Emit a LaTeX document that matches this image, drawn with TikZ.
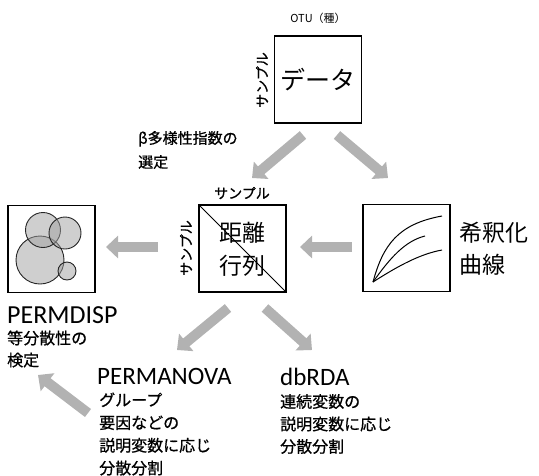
\documentclass[tikz,border=0pt]{standalone}
\usepackage{fontspec}
\setmainfont{Carlito}
\newfontfamily\jp{Noto Sans CJK JP}
\newfontfamily\jpb[FakeBold=0.8]{Noto Sans CJK JP}
\usetikzlibrary{arrows.meta}
\newcommand{\fs}[2]{\fontsize{#1}{#2}\selectfont}
\tikzset{
  box/.style={draw=black, line width=1.2pt, minimum width=87pt, minimum height=87pt, inner sep=0pt},
  bigarrow/.style={draw=gray!60, line width=10pt, -{Triangle[width=22pt,length=12pt]}},
  lbl/.style={inner sep=0pt, anchor=west, align=left},
  circ/.style={draw=black!85, line width=0.9pt, fill=gray!75, fill opacity=0.5}
}
\begin{document}
\begin{tikzpicture}[x=1pt,y=-1pt]
\useasboundingbox (0,0) rectangle (539,475);
% boxes
\node[box, font=\jp\fs{25}{30}] (data) at (318,79.5) {データ};
\node[inner sep=0pt, font=\jp\fs{11}{13}] (otu) at (318,18) {OTU（種）};
\node[inner sep=0pt, rotate=90, font=\jpb\fs{14}{16}] (s1) at (262,80) {サンプル};

\node[box] (dm) at (242.5,248.5) {};
\draw[line width=1pt] (dm.north west) -- (dm.south east);
\node[inner sep=0pt, align=center, font=\jp\fs{23}{33}] (dmt) at (242.5,249) {距離\\行列};
\node[inner sep=0pt, font=\jpb\fs{14}{16}] (s2) at (242,193) {サンプル};
\node[inner sep=0pt, rotate=90, font=\jpb\fs{14}{16}] (s3) at (186,248) {サンプル};

\node[box] (pd) at (51.5,249) {};
\node[circ] (c1) at (40,260) [circle, minimum size=48pt, inner sep=0pt] {};
\node[circ] (c2) at (43,230) [circle, minimum size=35pt, inner sep=0pt] {};
\node[circ] (c3) at (65,233) [circle, minimum size=32pt, inner sep=0pt] {};
\node[circ] (c4) at (67,271) [circle, minimum size=18pt, inner sep=0pt] {};

\node[box] (rf) at (406.5,248) {};
\coordinate (o) at (373,282);
\draw[line width=1pt] (o) .. controls (383,245) and (398,224) .. (442,216);
\draw[line width=1pt] (o) .. controls (390,258) and (405,241) .. (425,236);
\draw[line width=1pt] (o) .. controls (398,266) and (420,254) .. (442,250);
\node[lbl, font=\jp\fs{23}{32}] (rft) at (459,249) {希釈化\\曲線};

% texts
\node[lbl, font=\jpb\fs{15}{24}] (beta) at (138,150) {β多様性指数の\\選定};
\node[lbl, font=\fs{26}{30}] (pdt) at (7,315) {PERMDISP};
\node[lbl, font=\jpb\fs{16}{22}] (pdd) at (7,349) {等分散性の\\検定};
\node[lbl, font=\fs{25}{30}] (pmt) at (97,376) {PERMANOVA};
\node[lbl, font=\jpb\fs{16}{22.7}] (pmd) at (99,434) {グループ\\要因などの\\説明変数に応じ\\分散分割};
\node[lbl, font=\fs{25}{30}] (dbt) at (280,377) {dbRDA};
\node[lbl, font=\jpb\fs{16}{22.5}] (dbd) at (280,424) {連続変数の\\説明変数に応じ\\分散分割};

% arrows
\coordinate (a1t) at (303,135); \coordinate (a1h) at (252,178);
\coordinate (a2t) at (337,135); \coordinate (a2h) at (388,178);
\coordinate (a3t) at (352,247); \coordinate (a3h) at (300,247);
\coordinate (a4t) at (158,247); \coordinate (a4h) at (106,247);
\coordinate (a5t) at (228,308); \coordinate (a5h) at (177,350);
\coordinate (a6t) at (265,308); \coordinate (a6h) at (312,350);
\coordinate (a7t) at (88,413); \coordinate (a7h) at (38,375);
\foreach \i in {1,...,7} \draw[bigarrow] (a\i t) -- (a\i h);
\end{tikzpicture}
\end{document}
